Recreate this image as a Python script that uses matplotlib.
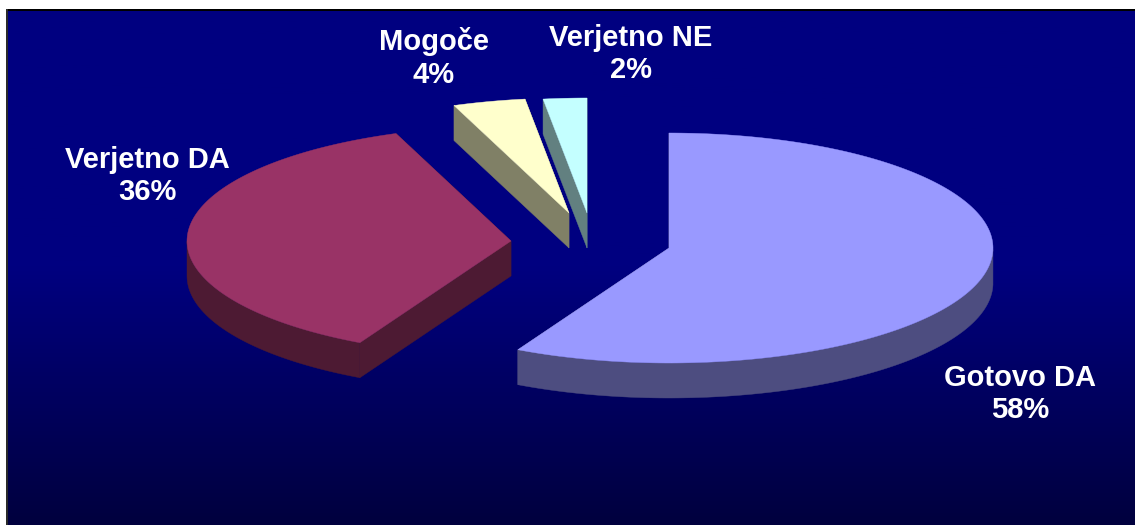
import matplotlib
matplotlib.use("Agg")
import matplotlib.pyplot as plt
import numpy as np
from matplotlib.colors import LinearSegmentedColormap
from matplotlib.patches import Polygon, Rectangle

plt.rcParams["font.family"] = ["Liberation Sans", "DejaVu Sans"]

labels = ["Gotovo DA", "Verjetno DA", "Mogoče", "Verjetno NE"]
values = [58, 36, 4, 2]

top_colors = ["#9999FF", "#993366", "#FFFFCC", "#C4FFFF"]
wall_colors = ["#4D4D80", "#4D1A33", "#808066", "#628080"]

# pixel positions of the exploded slices
apex_x = [669, 511, 569, 587]
apex_y = [248, 241, 213, 213]
label_x = [1020, 147, 434, 631]
label_y = [394, 176, 58, 54]

RX, RY = 324, 115
DEPTH = 35
# the 3d view bends the slice edges a little (degrees)
edge_warp = [0, -1.0, 0.8, -0.6, 0]

fig = plt.figure(figsize=(11.35, 5.25), dpi=100)
ax = fig.add_axes([0, 0, 1, 1])

bg = LinearSegmentedColormap.from_list("bg", ["#000080", "#000080", "#00003E"])
grad = np.linspace(0, 1, 256).reshape(-1, 1)
ax.imshow(grad, cmap=bg, extent=[7, 1135, 525, 10], aspect="auto", zorder=0)
ax.set_xlim(0, 1135)
ax.set_ylim(525, 0)
ax.axis("off")
ax.add_patch(Rectangle((6, 9), 1129, 2, color="black", lw=0, zorder=1))
ax.add_patch(Rectangle((6, 9), 2, 516, color="#2a2a2a", lw=0, zorder=1))

stops = np.cumsum([0] + values) / sum(values) * 2 * np.pi + np.radians(edge_warp)

# back slices first so the front ones paint over them
for i in [3, 2, 1, 0]:
    t = np.linspace(stops[i], stops[i + 1], 200)
    ex = apex_x[i] + RX * np.sin(t)
    ey = apex_y[i] - RY * np.cos(t)
    z = 6 - i

    # cut faces
    for k in [0, -1]:
        face = [(apex_x[i], apex_y[i]), (ex[k], ey[k]),
                (ex[k], ey[k] + DEPTH), (apex_x[i], apex_y[i] + DEPTH)]
        ax.add_patch(Polygon(face, fc=wall_colors[i], ec=wall_colors[i], lw=0.3, zorder=z))

    # outer rim, only the part facing the viewer
    front = np.cos(t) < 0
    if front.any():
        rim = list(zip(ex[front], ey[front])) + list(zip(ex[front][::-1], ey[front][::-1] + DEPTH))
        ax.add_patch(Polygon(rim, fc=wall_colors[i], ec=wall_colors[i], lw=0.3, zorder=z))

    top = [(apex_x[i], apex_y[i])] + list(zip(ex, ey))
    ax.add_patch(Polygon(top, fc=top_colors[i], ec=top_colors[i], lw=0.3, zorder=z))

    ax.text(label_x[i], label_y[i], f"{labels[i]}\n{values[i]}%", color="white",
            fontsize=21, fontweight="bold", ha="center", va="center",
            linespacing=1.2, zorder=10)

fig.savefig("out.png", dpi=100)
